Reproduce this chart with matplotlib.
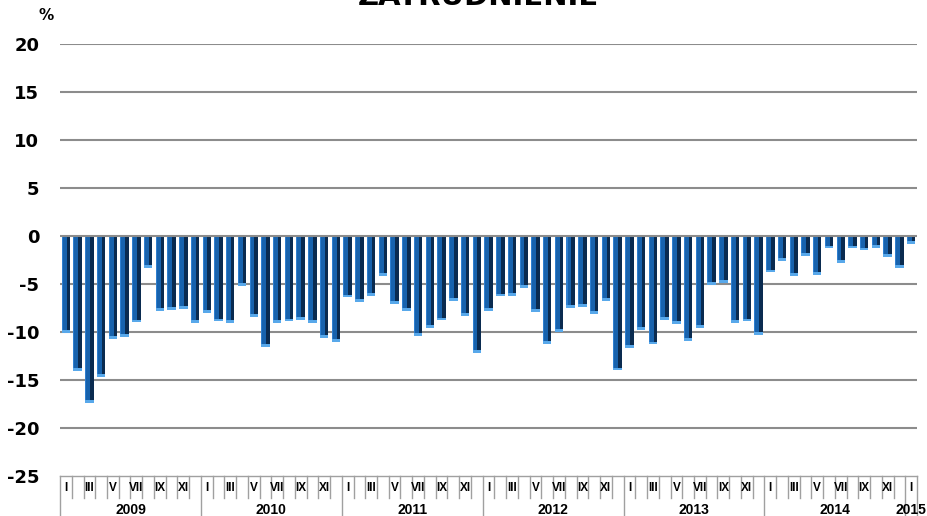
import numpy as np
import matplotlib
matplotlib.use('Agg')
import matplotlib.pyplot as plt
import matplotlib.transforms as mtransforms

# monthly values (%), Jan 2009 - Jan 2015
v2009 = [-10.1, -14.1, -17.4, -14.7, -10.7, -10.5, -9.0, -3.3, -7.8, -7.7, -7.6, -9.1]
v2010 = [-8.0, -8.9, -9.1, -5.2, -8.4, -11.6, -9.1, -8.9, -8.7, -9.1, -10.6, -11.0]
v2011 = [-6.4, -6.9, -6.2, -4.2, -7.1, -7.8, -10.4, -9.6, -8.8, -6.8, -8.3, -12.2]
v2012 = [-7.8, -6.3, -6.2, -5.4, -7.9, -11.2, -10.0, -7.5, -7.4, -8.1, -6.8, -14.0]
v2013 = [-11.7, -9.8, -11.3, -8.7, -9.2, -10.9, -9.6, -5.1, -4.9, -9.1, -8.9, -10.3]
v2014 = [-3.8, -2.6, -4.2, -2.1, -4.1, -1.3, -2.8, -1.3, -1.5, -1.2, -2.2, -3.3]
v2015 = [-0.8]

years = ['2009', '2010', '2011', '2012', '2013', '2014', '2015']
month_labels = ['I', '', 'III', '', 'V', '', 'VII', '', 'IX', '', 'XI', '']
yticks = [-25, -20, -15, -10, -5, 0, 5, 10, 15, 20]

values = np.array(v2009 + v2010 + v2011 + v2012 + v2013 + v2014 + v2015)
n = len(values)
x = np.arange(n)

fig = plt.figure(figsize=(9.28, 5.16), dpi=100)
ax = fig.add_axes([0.0647, 0.0775, 0.9235, 0.8372])

# pseudo-3d bars: front face, dark side, light end cap
w = 0.72
ax.bar(x - w/2, values, width=w*0.12, align='edge', color='#2f7fcf', zorder=3, linewidth=0)
ax.bar(x - w/2 + w*0.12, values, width=w*0.46, align='edge', color='#1762ad', zorder=3, linewidth=0)
ax.bar(x - w/2 + w*0.58, values, width=w*0.42, align='edge', color='#0a2b50', zorder=3, linewidth=0)
ax.bar(x - w/2, np.full(n, 0.3), bottom=values, width=w, align='edge', color='#58a8ea', zorder=4, linewidth=0)

ax.set_xlim(-0.5, n - 0.5)
ax.set_ylim(-25, 20)
ax.set_yticks(yticks)
ax.set_yticklabels([str(t) for t in yticks], fontsize=13, fontweight='bold', family='DejaVu Sans')
ax.tick_params(axis='y', length=0, pad=15)
ax.set_xticks([])

for t in yticks[1:]:
    ax.axhline(t, color='#8c8c8c', linewidth=1.5, zorder=5 if t == 0 else 1)

for s in ['top', 'right', 'left']:
    ax.spines[s].set_visible(False)
ax.spines['bottom'].set_color('#a0a0a0')
ax.spines['bottom'].set_linewidth(1.0)

# two-level category axis
trans = mtransforms.blended_transform_factory(ax.transData, ax.transAxes)
for i in range(n + 1):
    edge = i - 0.5
    if i % 12 == 0 or i == n:
        ax.plot([edge, edge], [0, -0.1], color='#a0a0a0', lw=1.0, transform=trans, clip_on=False)
    else:
        ax.plot([edge, edge], [0, -0.05], color='#a0a0a0', lw=1.0, transform=trans, clip_on=False)

for i in range(n):
    lab = month_labels[i % 12]
    if lab:
        ax.text(i, -0.027, lab, transform=trans, ha='center', va='center',
                fontsize=8.5, fontweight='bold', family='Liberation Sans')

for k, yr in enumerate(years):
    start = k * 12
    end = min(start + 12, n)
    ax.text((start + end - 1) / 2, -0.079, yr, transform=trans, ha='center', va='center',
            fontsize=10, fontweight='bold', family='Liberation Sans')

fig.text(0.516, 0.99, 'ZATRUDNIENIE', ha='center', va='baseline',
         fontsize=21, fontweight='bold', family='DejaVu Sans')
fig.text(0.05, 0.969, '%', ha='center', va='center', fontsize=11, fontweight='bold',
         family='DejaVu Sans')

plt.savefig('out.png', dpi=100)
